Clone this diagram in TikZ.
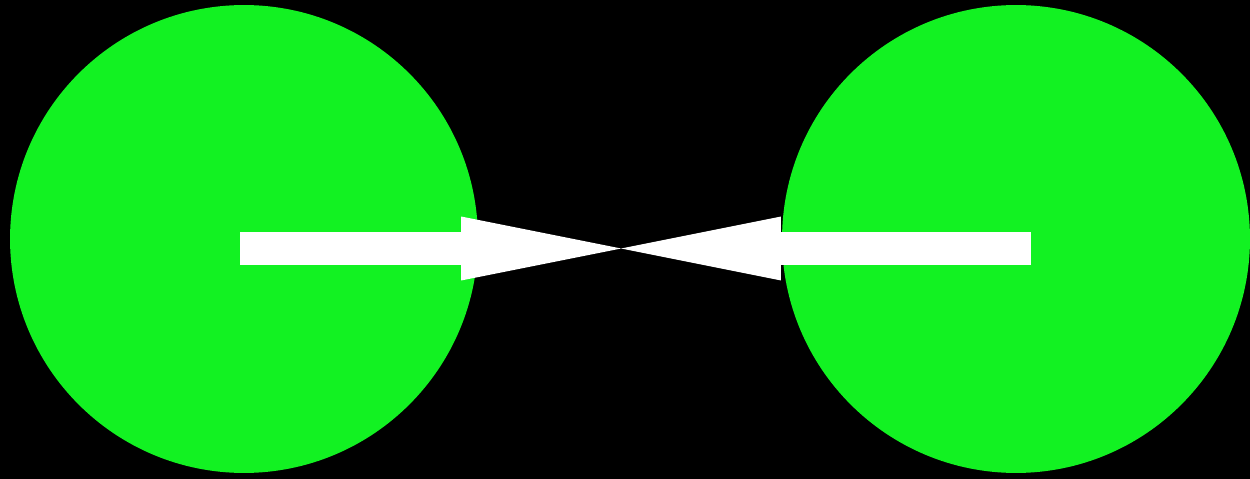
\documentclass[tikz,border=0pt]{standalone}
\usetikzlibrary{arrows.meta}
\definecolor{ballgreen}{RGB}{18,242,34}
\begin{document}
\begin{tikzpicture}[x=0.02cm,y=-0.02cm,
  ball/.style={circle,fill=ballgreen,draw=none,inner sep=0pt,minimum size=9.36cm},
  wharrow/.style={draw=white,line width=0.66cm,-{Triangle[length=3.2cm,width=1.28cm,line width=0pt,fill=white]}}]
  \fill[black] (0,0) rectangle (1250,479);
  \useasboundingbox (0,0) rectangle (1250,479);
  \node[ball] (L) at (244,239) {};
  \node[ball] (R) at (1016,239) {};
  \coordinate (ls) at (240,248.5);
  \coordinate (rs) at (1031,248.5);
  \coordinate (m) at (621,248.5);
  \draw[wharrow] (ls) -- (m);
  \draw[wharrow] (rs) -- (m);
\end{tikzpicture}
\end{document}
